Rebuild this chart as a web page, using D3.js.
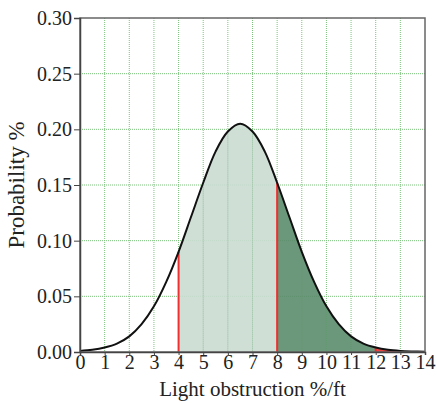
<!DOCTYPE html>
<html>
<head>
<meta charset="utf-8">
<script src="https://cdn.jsdelivr.net/npm/d3@7"></script>
<style>
  body { margin: 0; background: #fff; }
  text { font-family: "Liberation Serif", "DejaVu Serif", serif; }
</style>
</head>
<body>
<script>
// curve, every 0.5 %/ft
const xs = [0, 0.5, 1, 1.5, 2, 2.5, 3, 3.5, 4, 4.5, 5, 5.5, 6, 6.5, 7, 7.5, 8, 8.5, 9, 9.5, 10, 10.5, 11, 11.5, 12, 12.5, 13, 13.5, 14];
const probs = [0.001, 0.002, 0.004, 0.0075, 0.014, 0.025, 0.041, 0.063, 0.090, 0.121, 0.152, 0.180, 0.198, 0.205, 0.198, 0.180, 0.152, 0.121, 0.090, 0.063, 0.041, 0.025, 0.014, 0.0075, 0.004, 0.002, 0.001, 0.0005, 0.0002];
const xTicks = d3.range(0, 15);
const yTicks = [0, 0.05, 0.10, 0.15, 0.20, 0.25, 0.30];
const bands = [
    { from: 4, to: 8, color: "#cadbd1" },
    { from: 8, to: 12, color: "#5b8c6c" },
    { from: 12, to: 14, color: "#e8322f" }
];
const cutLines = [4, 8, 12];

const margin = { top: 18, right: 12, bottom: 51, left: 80 },
    width = 437 - margin.left - margin.right,
    height = 403 - margin.top - margin.bottom;

const svg = d3.select("body")
    .append("svg")
    .attr("width", width + margin.left + margin.right)
    .attr("height", height + margin.top + margin.bottom)
    .append("g")
    .attr("transform", `translate(${margin.left},${margin.top})`);

const data = xs.map((x, i) => ({ x: x, y: probs[i] }));

const x = d3.scaleLinear().domain([0, 14]).range([0, width]);
const y = d3.scaleLinear().domain([0, 0.30]).range([height, 0]);

// grid
svg.append("g")
    .selectAll("line")
    .data(xTicks.slice(1, -1))
    .enter().append("line")
    .attr("x1", d => x(d)).attr("x2", d => x(d))
    .attr("y1", 0).attr("y2", height)
    .attr("stroke", "#7cc47c")
    .attr("stroke-dasharray", "1,1");

svg.append("g")
    .selectAll("line")
    .data(yTicks.slice(1, -1))
    .enter().append("line")
    .attr("x1", 0).attr("x2", width)
    .attr("y1", d => y(d)).attr("y2", d => y(d))
    .attr("stroke", "#7cc47c")
    .attr("stroke-dasharray", "1,1");

const curve = d3.curveCatmullRom.alpha(0.5);

// shaded bands under the curve
const area = d3.area()
    .x(d => x(d.x))
    .y0(y(0))
    .y1(d => y(d.y))
    .curve(curve);

bands.forEach(b => {
    svg.append("path")
        .datum(data.filter(d => d.x >= b.from && d.x <= b.to))
        .attr("fill", b.color)
        .attr("fill-opacity", 0.9)
        .attr("d", area);
});

// the bands let the grid show through
svg.append("g")
    .selectAll("line")
    .data(xTicks.filter(d => d > 4 && d < 12))
    .enter().append("line")
    .attr("x1", d => x(d)).attr("x2", d => x(d))
    .attr("y1", d => y(probs[xs.indexOf(d)])).attr("y2", height)
    .attr("stroke", "#6aaa78")
    .attr("stroke-opacity", 0.5)
    .attr("stroke-dasharray", "1,1");

svg.selectAll(".cut")
    .data(cutLines)
    .enter().append("line")
    .attr("class", "cut")
    .attr("x1", d => x(d)).attr("x2", d => x(d))
    .attr("y1", d => y(probs[xs.indexOf(d)])).attr("y2", height)
    .attr("stroke", "#ee3030")
    .attr("stroke-width", 2);

const line = d3.line()
    .x(d => x(d.x))
    .y(d => y(d.y))
    .curve(curve);

svg.append("path")
    .datum(data)
    .attr("fill", "none")
    .attr("stroke", "#111")
    .attr("stroke-width", 2)
    .attr("d", line);

// frame
svg.append("rect")
    .attr("width", width).attr("height", height)
    .attr("fill", "none")
    .attr("stroke", "#666")
    .attr("stroke-width", 1.5);

const xAxis = svg.append("g")
    .attr("transform", `translate(0,${height})`)
    .call(d3.axisBottom(x).tickValues(xTicks).tickSize(3).tickPadding(0).tickFormat(d3.format("d")));

const yAxis = svg.append("g")
    .call(d3.axisLeft(y).tickValues(yTicks).tickSize(6).tickPadding(2).tickFormat(d3.format(".2f")));

[xAxis, yAxis].forEach(a => {
    a.select(".domain").attr("stroke", "#444").attr("stroke-width", 1.5);
    a.selectAll(".tick line").attr("stroke", "#444");
    a.selectAll("text")
        .attr("fill", "#222")
        .style("font-family", "Liberation Serif, serif")
        .style("font-size", "20px");
});

svg.append("text")
    .attr("x", width / 2)
    .attr("y", height + 44)
    .attr("text-anchor", "middle")
    .style("font-size", "21px")
    .attr("fill", "#222")
    .text("Light obstruction %/ft");

svg.append("text")
    .attr("transform", "rotate(-90)")
    .attr("x", -height / 2)
    .attr("y", -margin.left + 24)
    .attr("text-anchor", "middle")
    .style("font-size", "23px")
    .attr("fill", "#222")
    .text("Probability %");
</script>
</body>
</html>
